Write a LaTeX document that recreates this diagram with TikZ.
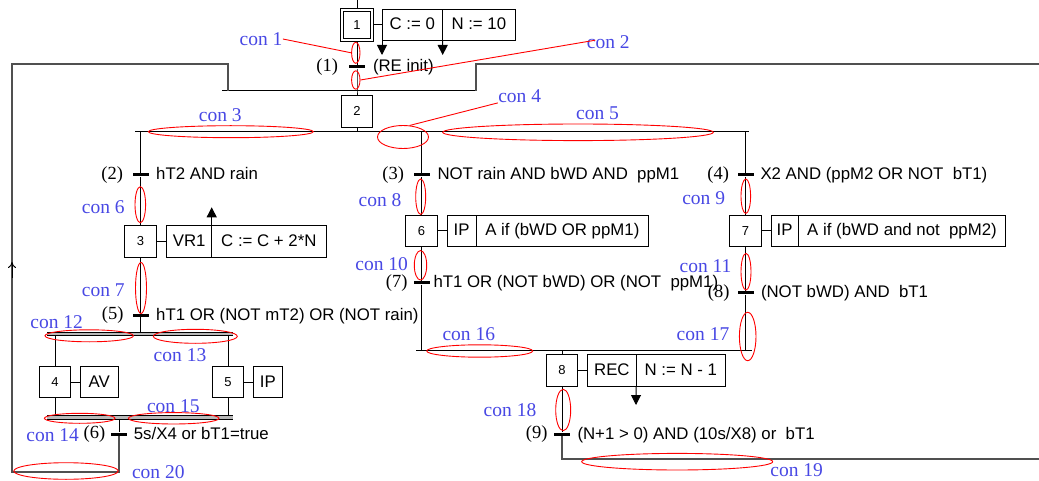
\documentclass[tikz,border=0pt]{standalone}
\usepackage{fontspec}
\setmainfont{Liberation Sans}
\newfontfamily\serifnum{Liberation Serif}
\usepackage{tikz}
\usetikzlibrary{arrows.meta}
\usetikzlibrary{positioning,shapes.geometric}
\definecolor{conblue}{RGB}{72,72,228}
\definecolor{loopgray}{RGB}{80,80,80}

\begin{document}
\begin{tikzpicture}[x=1pt, y=-1pt, line width=1pt,
    stepbox/.style={draw, minimum width=31.5pt, minimum height=31.5pt, inner sep=0pt,
                    font=\fontsize{13}{15}\selectfont},
    initbox/.style={stepbox, minimum width=30pt, minimum height=30pt,
                    double, double distance=2.3pt, outer sep=2.2pt},
    actbox/.style={draw, minimum height=31.5pt, inner sep=0pt, outer sep=0pt,
                   text height=12.5pt, text depth=2.5pt, font=\fontsize{16.8}{19}\selectfont},
    trbar/.style={fill=black, minimum width=16pt, minimum height=3pt, inner sep=0pt},
    cond/.style={inner sep=0pt, text height=12.5pt, text depth=2.5pt,
                 font=\fontsize{16.8}{19}\selectfont},
    num/.style={inner sep=0pt, text height=13pt, text depth=4pt,
                font=\serifnum\fontsize{18.5}{21}\selectfont},
    conlbl/.style={inner sep=0pt, text height=13.4pt, text depth=0pt, text=conblue,
                   font=\serifnum\fontsize{19.5}{22}\selectfont},
    conring/.style={draw=red, ellipse, inner sep=0pt, line width=0.9pt},
    conline/.style={draw=red, line width=0.9pt},
    loopline/.style={draw=loopgray, line width=2pt},
    dbar/.style={double=gray!55, double distance=2.4pt, line width=1pt},
    actarrow/.style={-{Triangle[width=10pt,length=10pt]}}]
            \useasboundingbox (0,0) rectangle (1039,481);

            \draw (357,25) node[initbox] (s1) {1};
            \draw (382,25) node[actbox, anchor=west, minimum width=60.7pt] (a1) {C := 0};
            \node[actbox, right=0pt of a1, minimum width=72.3pt] (a1b) {N := 10};
            \draw (357,66.7) node[trbar] (t1) {};
            \node[num, left=10pt of t1] (n1) {(1)};
            \node[cond, right=7pt of t1] (k1) {(RE init)};
            \draw (357,111.3) node[stepbox] (s2) {2};

            \draw (140.5,175) node[trbar] (t2) {};
            \node[num, left=8.5pt of t2] (n2) {(2)};
            \node[cond, right=6.7pt of t2] (k2) {hT2 AND rain};
            \draw (140.5,241.5) node[stepbox] (s3) {3};
            \draw (166.7,241.5) node[actbox, anchor=west, minimum width=45pt] (a3) {VR1};
            \node[actbox, right=0pt of a3, minimum width=114.3pt] (a3b) {C := C + 2*N};
            \draw (140.5,315) node[trbar] (t5) {};
            \node[num, left=8pt of t5] (n5) {(5)};
            \node[cond, right=6.7pt of t5] (k5) {hT1 OR (NOT mT2) OR (NOT rain)};
            \draw (55,382) node[stepbox] (s4) {4};
            \draw (80,382) node[actbox, anchor=west, minimum width=38.3pt] (a4) {AV};
            \draw (228,382) node[stepbox] (s5) {5};
            \draw (253.3,382) node[actbox, anchor=west, minimum width=29pt] (a5) {IP};
            \draw (119.3,434) node[trbar] (t6) {};
            \node[num, left=5pt of t6] (n6) {(6)};
            \node[cond, right=5.6pt of t6] (k6) {5s/X4 or bT1=true};

            \draw (421.5,175) node[trbar] (t3) {};
            \node[num, left=8.5pt of t3] (n3) {(3)};
            \node[cond, right=7pt of t3] (k3) {NOT rain AND bWD AND \ ppM1};
            \draw (421.5,231) node[stepbox] (s6) {6};
            \draw (447.3,231) node[actbox, anchor=west, minimum width=28.7pt] (a6) {IP};
            \node[actbox, right=0pt of a6, minimum width=172.7pt] (a6b) {A if (bWD OR ppM1)};
            \draw (421.5,282.7) node[trbar] (t7) {};
            \node[num, left=5pt of t7] (n7) {(7)};
            \node[cond, right=3pt of t7] (k7) {hT1 OR (NOT bWD) OR (NOT \ ppM1)};

            \draw (745.5,175) node[trbar] (t4) {};
            \node[num, left=7.5pt of t4] (n4) {(4)};
            \node[cond, right=6pt of t4] (k4) {X2 AND (ppM2 OR NOT \ bT1)};
            \draw (745.5,231) node[stepbox] (s7) {7};
            \draw (771,231) node[actbox, anchor=west, minimum width=27.3pt] (a7) {IP};
            \node[actbox, right=0pt of a7, minimum width=207.4pt] (a7b) {A if (bWD and not \ ppM2)};
            \draw (745.5,292.7) node[trbar] (t8) {};
            \node[num, left=7pt of t8] (n8) {(8)};
            \node[cond, right=6.5pt of t8] (k8) {(NOT bWD) AND \ bT1};

            \draw (562,370.3) node[stepbox] (s8) {8};
            \draw (587.7,370.3) node[actbox, anchor=west, minimum width=48.3pt] (a8) {REC};
            \node[actbox, right=0pt of a8, minimum width=89.7pt] (a8b) {N := N - 1};
            \draw (562,434.3) node[trbar] (t9) {};
            \node[num, left=5.5pt of t9] (n9) {(9)};
            \node[cond, right=6.5pt of t9] (k9) {(N+1 > 0) AND (10s/X8) or \ bT1};

            \coordinate (top) at (357,0);
            \coordinate (j0) at (357,90.7);
            \coordinate (jl) at (222,90.7);
            \coordinate (jr) at (477,90.7);
            \coordinate (la) at (227.7,90.7);
            \coordinate (lb) at (227.7,64);
            \coordinate (lc) at (12,64);
            \coordinate (ld) at (12,471.7);
            \coordinate (le) at (119.3,471.7);
            \coordinate (ra) at (476,90.7);
            \coordinate (rb) at (476,64);
            \coordinate (rc) at (1039,64);
            \coordinate (u1) at (12,278);
            \coordinate (u2) at (12,262);
            \coordinate (d0) at (357,131.7);
            \coordinate (dl) at (135,131.7);
            \coordinate (dr) at (749,131.7);
            \coordinate (b2) at (140.5,131.7);
            \coordinate (b3) at (421.5,131.7);
            \coordinate (b4) at (745.5,131.7);
            \coordinate (p0) at (140.5,332.3);
            \coordinate (pl) at (47,334);
            \coordinate (pr) at (233,334);
            \coordinate (p4) at (55,334);
            \coordinate (p5) at (228,334);
            \coordinate (ql) at (47,417.5);
            \coordinate (qr) at (233,417.5);
            \coordinate (q4) at (55,417.5);
            \coordinate (q5) at (228,417.5);
            \coordinate (q0) at (119.3,418.7);
            \coordinate (ml) at (416,350);
            \coordinate (mr) at (752,350);
            \coordinate (m3) at (421.5,350);
            \coordinate (m4) at (745.5,350);
            \coordinate (m0) at (562,350);
            \coordinate (g0) at (562,459.3);
            \coordinate (g1) at (1039,459.3);
            \coordinate (h1a) at (382,55);
            \coordinate (h1b) at (442.7,55);
            \coordinate (h3) at (211.7,207.3);
            \coordinate (h8) at (636,405);

            \draw (top) -- (s1) -- (t1) -- (j0) -- (s2);
            \draw (jl) -- (jr);
            \draw (s1) -- (a1);
            \draw[actarrow] (a1.south west) -- (h1a);
            \draw[actarrow] (a1.south east) -- (h1b);
            \draw[loopline] (rc) -- (rb) -- (ra);
            \draw (s2) -- (d0);
            \draw (dl) -- (dr);

            \draw (b2) -- (t2) -- (s3) -- (t5) -- (p0);
            \draw (s3) -- (a3);
            \draw[actarrow] (a3.north east) -- (h3);
            \draw (p4) -- (s4) -- (q4);
            \draw (p5) -- (s5) -- (q5);
            \draw (s4) -- (a4);
            \draw (s5) -- (a5);
            \draw[dbar] (pl) -- (pr);
            \draw[dbar] (ql) -- (qr);
            \draw (q0) -- (t6);
            \draw[loopline] (t6) -- (le) -- (ld) -- (lc) -- (lb) -- (la);
            \draw[-{To[length=6pt,width=8pt]}] (u1) -- (u2);

            \draw (b3) -- (t3) -- (s6) -- (t7) -- (m3);
            \draw (s6) -- (a6);
            \draw (b4) -- (t4) -- (s7) -- (t8) -- (m4);
            \draw (s7) -- (a7);
            \draw (ml) -- (mr);
            \draw (m0) -- (s8) -- (t9);
            \draw (s8) -- (a8);
            \draw[actarrow] (a8.south east) -- (h8);
            \draw[loopline] (t9) -- (g0) -- (g1);

            \draw (261,39) node[conlbl] (c1) {con 1};
            \draw (355.8,52.8) node[conring, minimum width=8.4pt, minimum height=21pt] (e1) {};
            \draw[conline] (c1.east) -- (e1.west);
            \draw (608.3,41.7) node[conlbl] (c2) {con 2};
            \draw (355.8,80) node[conring, minimum width=8.4pt, minimum height=18.4pt] (e2) {};
            \draw[conline, shorten <=-9pt] (c2.west) -- (e2.east);
            \draw (220.3,115) node[conlbl] (c3) {con 3};
            \draw (230.8,131.7) node[conring, minimum width=165pt, minimum height=12pt] (e3) {};
            \draw (519.7,95.7) node[conlbl] (c4) {con 4};
            \draw (403,137) node[conring, minimum width=51pt, minimum height=23pt] (e4) {};
            \draw[conline] (c4.south west) -- (e4.60);
            \draw (597.5,113.3) node[conlbl] (c5) {con 5};
            \draw (578,132.3) node[conring, minimum width=270.6pt, minimum height=16.6pt] (e5) {};
            \draw (103.3,206.7) node[conlbl] (c6) {con 6};
            \draw (140.3,204.7) node[conring, minimum width=10.6pt, minimum height=36pt] (e6) {};
            \draw (103.3,290) node[conlbl] (c7) {con 7};
            \draw (141,288) node[conring, minimum width=11pt, minimum height=51pt] (e7) {};
            \draw (380,200) node[conlbl] (c8) {con 8};
            \draw (420.7,196.7) node[conring, minimum width=10pt, minimum height=35.4pt] (e8) {};
            \draw (703.7,198.3) node[conlbl] (c9) {con 9};
            \draw (745.8,196.2) node[conring, minimum width=9.6pt, minimum height=34.4pt] (e9) {};
            \draw (381.7,264) node[conlbl] (c10) {con 10};
            \draw (420.5,265.3) node[conring, minimum width=12.4pt, minimum height=29.4pt] (e10) {};
            \draw (705.5,265.7) node[conlbl] (c11) {con 11};
            \draw (746,271.7) node[conring, minimum width=10pt, minimum height=36.6pt] (e11) {};
            \draw (56.7,321.7) node[conlbl] (c12) {con 12};
            \draw (89.2,335.8) node[conring, minimum width=88.4pt, minimum height=12pt] (e12) {};
            \draw (180,355) node[conlbl] (c13) {con 13};
            \draw (195.3,336.3) node[conring, minimum width=84pt, minimum height=14pt] (e13) {};
            \draw (52.7,434.3) node[conlbl] (c14) {con 14};
            \draw (79.7,418.3) node[conring, minimum width=70.6pt, minimum height=10pt] (e14) {};
            \draw (173.3,406) node[conlbl] (c15) {con 15};
            \draw (173.7,418.3) node[conring, minimum width=90.6pt, minimum height=11.4pt] (e15) {};
            \draw (468.8,333.3) node[conlbl] (c16) {con 16};
            \draw (479.7,351) node[conring, minimum width=106pt, minimum height=12.4pt] (e16) {};
            \draw (703,334) node[conlbl] (c17) {con 17};
            \draw (747.7,336.5) node[conring, minimum width=16.6pt, minimum height=48.4pt] (e17) {};
            \draw (510,409.3) node[conlbl] (c18) {con 18};
            \draw (563.2,410) node[conring, minimum width=15pt, minimum height=41.4pt] (e18) {};
            \draw (796.7,470) node[conlbl] (c19) {con 19};
            \draw (677.2,461.7) node[conring, minimum width=191pt, minimum height=16.6pt] (e19) {};
            \draw (158.3,471.5) node[conlbl] (c20) {con 20};
            \draw (66,471) node[conring, minimum width=104.4pt, minimum height=16.6pt] (e20) {};

            \end{tikzpicture}
\end{document}
